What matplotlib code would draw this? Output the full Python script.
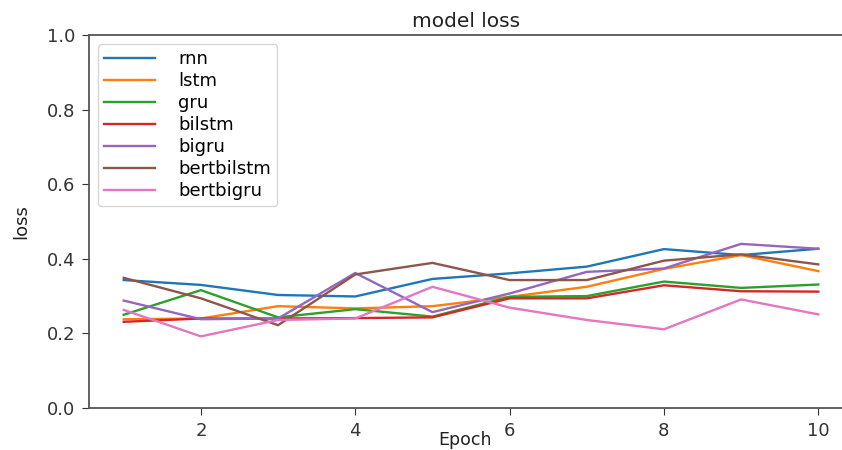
import matplotlib
matplotlib.use("Agg")
import matplotlib.pyplot as plt

epochs = [1, 2, 3, 4, 5, 6, 7, 8, 9, 10]

rnn = [0.343, 0.330, 0.303, 0.299, 0.346, 0.361, 0.379, 0.426, 0.410, 0.427]
lstm = [0.238, 0.240, 0.273, 0.267, 0.273, 0.298, 0.325, 0.373, 0.410, 0.367]
gru = [0.250, 0.316, 0.243, 0.265, 0.245, 0.298, 0.300, 0.339, 0.322, 0.331]
bilstm = [0.231, 0.240, 0.240, 0.241, 0.243, 0.294, 0.294, 0.329, 0.313, 0.312]
bigru = [0.288, 0.238, 0.240, 0.362, 0.257, 0.307, 0.365, 0.374, 0.440, 0.427]
bertbilstm = [0.349, 0.294, 0.222, 0.358, 0.389, 0.343, 0.343, 0.395, 0.412, 0.385]
bertbigru = [0.263, 0.192, 0.236, 0.240, 0.325, 0.269, 0.236, 0.211, 0.291, 0.251]

series = [rnn, lstm, gru, bilstm, bigru, bertbilstm, bertbigru]
names = ["rnn", "lstm", "gru", "bilstm", "bigru", "bertbilstm", "bertbigru"]

fig = plt.figure(figsize=(8.42, 4.5), dpi=100)
# the reference is cropped on the right, so the axes run past the figure edge
ax = fig.add_axes([89 / 842, 42 / 450, 764 / 842, 373 / 450])

for vals, name in zip(series, names):
    ax.plot(epochs, vals, label=name, linewidth=1.7)

ax.set_xlim(0.55, 10.45)
ax.set_ylim(0.0, 1.0)
ax.set_xticks([2, 4, 6, 8, 10])
ax.set_yticks([0.0, 0.2, 0.4, 0.6, 0.8, 1.0])
ax.tick_params(labelsize=13, colors="#333333", length=5, pad=5)
for s in ax.spines.values():
    s.set_color("#555555")
    s.set_linewidth(1.3)

ax.set_title("model loss", fontsize=14.5, x=0.493, color="#222222")
ax.set_xlabel("Epoch", fontsize=12.5, color="#222222")
ax.xaxis.set_label_coords(0.492, -0.061)
ax.set_ylabel("loss", fontsize=13, color="#222222", labelpad=12)
ax.legend(loc="upper left", fontsize=13, handlelength=2.8, borderaxespad=0.5,
          labelspacing=0.22, handletextpad=1.3, borderpad=0.35)

fig.savefig("out.png", dpi=100)
